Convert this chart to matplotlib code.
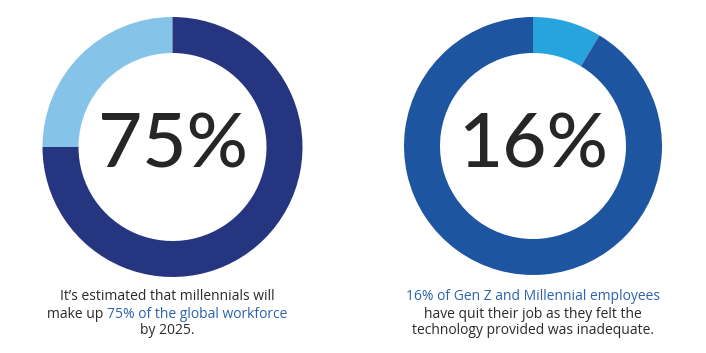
import matplotlib
matplotlib.use("Agg")
import matplotlib.pyplot as plt

# values
left_label = "75%"
left_parts = [25, 75]          # light, dark
right_label = "16%"
right_parts = [8.6, 91.4]      # light, dark (drawn segment)

left_colors = ["#85c4e8", "#26357f"]
right_colors = ["#27a4de", "#1d55a1"]

left_text = [
    [("It\u2019s estimated that millennials will", "dark")],
    [("make up ", "dark"), ("75% of the global workforce", "blue")],
    [("by 2025.", "dark")],
]
right_text = [
    [("16% of Gen Z and Millennial employees", "blue")],
    [("have quit their job as they felt the", "dark")],
    [("technology provided was inadequate.", "dark")],
]

txt_col = {"dark": "#2b2b2b", "blue": "#2d62ae"}
W, H = 706, 353

fig = plt.figure(figsize=(W / 100, H / 100), dpi=100)
ax = fig.add_axes([0, 0, 1, 1])

ax.pie(left_parts, colors=left_colors, startangle=90, counterclock=True,
       center=(172.5, H - 147), radius=130,
       wedgeprops=dict(width=36, linewidth=0))
ax.pie(right_parts, colors=right_colors, startangle=90, counterclock=False,
       center=(533, H - 146), radius=129,
       wedgeprops=dict(width=36, linewidth=0))

ax.set_xlim(0, W)
ax.set_ylim(0, H)
ax.set_aspect("equal")
ax.axis("off")

ax.text(172.5, H - 146, left_label, ha="center", va="center",
        fontsize=55, family="Lato", fontweight="medium", color="#262626")
ax.text(533, H - 146, right_label, ha="center", va="center",
        fontsize=55, family="Lato", fontweight="medium", color="#262626")

renderer = fig.canvas.get_renderer()


def put_lines(lines, cx, y0, dy):
    for i, line in enumerate(lines):
        y = H - (y0 + i * dy)
        objs = []
        for s, c in line:
            t = ax.text(0, y, s, ha="left", va="center", fontsize=10,
                        family="Open Sans", color=txt_col[c])
            objs.append(t)
        widths = [t.get_window_extent(renderer).width for t in objs]
        x = cx - sum(widths) / 2
        for t, w in zip(objs, widths):
            t.set_x(x)
            x += w


put_lines(left_text, 167, 297, 17)
put_lines(right_text, 533, 297, 17)

fig.savefig("out.png", dpi=100)
